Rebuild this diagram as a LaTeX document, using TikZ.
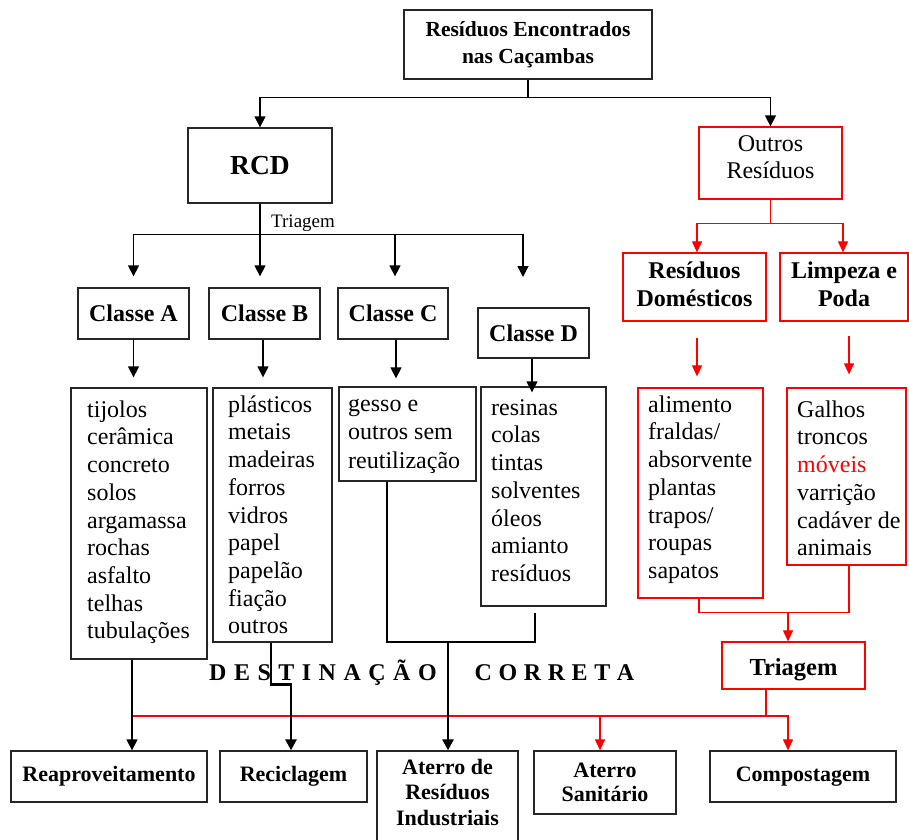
\documentclass[tikz,border=0pt]{standalone}
\usepackage{fontspec}
\setmainfont{Liberation Serif}
\usetikzlibrary{arrows.meta}
\newcommand\myfs[2]{\fontsize{#1}{#2}\selectfont}
\begin{document}
\begin{tikzpicture}[x=1pt,y=-1pt,
  box/.style={draw=black!85,line width=1.3pt,inner sep=0pt,align=center,font=\myfs{24}{27.7}\bfseries},
  rbox/.style={box,draw=red},
  lbox/.style={draw=black!85,line width=1.3pt,inner sep=0pt},
  rlbox/.style={lbox,draw=red},
  wh/.style 2 args={minimum width=#1pt,minimum height=#2pt},
  lbl/.style={inner sep=0pt,align=center},
  ltxt/.style={anchor=north west,inner sep=0pt,align=left,font=\myfs{24}{27.7}},
  ln/.style={line width=1.4pt,draw=black},
  thk/.style={line width=2.7pt,draw=black},
  arr/.style={ln,-{Triangle[length=11pt,width=11pt]}},
  rln/.style={line width=1.2pt,draw=red},
  rarr/.style={rln,-{Triangle[length=11pt,width=10pt]}},
]
\useasboundingbox (0,0) rectangle (909,839);
\clip (0,0) rectangle (909,839);
\fill[white] (0,0) rectangle (909,839);

% top level
\node[box,wh={248}{69},font=\myfs{21.5}{27}\bfseries] (top) at (528,44.5) {Resíduos Encontrados\\nas Caçambas};
\node[box,wh={144}{75},font=\myfs{27.5}{30}\bfseries] (rcd) at (260,165.5) {RCD};
\node[rbox,wh={143}{72}] (outros) at (770.5,163) {};
\node[lbl,font=\myfs{24}{27}] (outrosT) at (770.5,157) {Outros\\Resíduos};

% classes
\node[box,wh={111}{51}] (classA) at (133.5,313.5) {Classe A};
\node[box,wh={111}{51}] (classB) at (264.5,313.5) {Classe B};
\node[box,wh={110}{51}] (classC) at (393,313.5) {Classe C};
\node[box,wh={111}{50}] (classD) at (533.5,333) {Classe D};
\node[anchor=base west,inner sep=0pt,font=\myfs{19}{22}] (trilbl) at (271,227) {Triagem};

% other residues
\node[rbox,wh={143}{68}] (resdom) at (694.5,287) {};
\node[lbl,font=\myfs{24}{27.7}\bfseries] (resdomT) at (694.5,284) {Resíduos\\Domésticos};
\node[rbox,wh={128}{68}] (limpeza) at (844,287) {};
\node[lbl,font=\myfs{24}{27.7}\bfseries] (limpezaT) at (844,284) {Limpeza e\\Poda};

% lists
\node[lbox,wh={136}{271}] (listA) at (139,523.5) {};
\node[ltxt] (listAT) at (87,397.6) {\strut tijolos\\cerâmica\\concreto\\solos\\argamassa\\rochas\\asfalto\\telhas\\tubulações};
\node[lbox,wh={119}{254}] (listB) at (272.5,515) {};
\node[ltxt] (listBT) at (228,392.6) {\strut plásticos\\metais\\madeiras\\forros\\vidros\\papel\\papelão\\fiação\\outros};
\node[lbox,wh={137}{94}] (listC) at (407.5,434) {};
\node[ltxt,font=\myfs{24}{28.3}] (listCT) at (348,391.5) {\strut gesso e\\outros sem\\reutilização};
\node[lbox,wh={125}{219}] (listD) at (543.5,496.5) {};
\node[ltxt] (listDT) at (491,395.6) {\strut resinas\\colas\\tintas\\solventes\\óleos\\amianto\\resíduos};
\node[rlbox,wh={125}{210}] (listR1) at (700.5,493) {};
\node[ltxt] (listR1T) at (648,392.6) {\strut alimento\\fraldas/\\absorvente\\plantas\\trapos/\\roupas\\sapatos};
\node[rlbox,wh={119}{177}] (listR2) at (846.5,476.5) {};
\node[ltxt] (listR2T) at (797,397.6) {\strut Galhos\\troncos\\\textcolor{red}{móveis}\\varrição\\cadáver de\\animais};

% triagem red
\node[rbox,wh={143}{47}] (triagemR) at (793.5,665.5) {};
\node[lbl,font=\myfs{24.5}{28}\bfseries] (triagemRT) at (793.5,669.5) {Triagem};

% destination
\node[anchor=base west,inner sep=0pt,font=\myfs{24}{28}\bfseries] (dest) at (209,680)
  {\spaceskip=7.5pt\relax D E S T I N A Ç Ã O\hspace{38pt}{\spaceskip=6.6pt\relax C O R R E T A}};

% bottom boxes
\begin{scope}[box/.append style={font=\myfs{22}{24.5}\bfseries}]
\node[box,wh={196}{51}] (reap) at (109,776.5) {Reaproveitamento};
\node[box,wh={147}{51}] (recic) at (293.5,776.5) {Reciclagem};
\node[box,wh={141}{99}] (aterroI) at (447.5,800.5) {};
\node[lbl,font=\myfs{22}{25.5}\bfseries] (aterroIT) at (447.5,792) {Aterro de\\Resíduos\\Industriais};
\node[box,wh={142}{63}] (aterroS) at (605,782.5) {Aterro\\Sanitário};
\node[box,wh={186}{51}] (compost) at (803,776.5) {Compostagem};
\end{scope}

% coordinates for free ends / junctions
\path (rcd.south) ++(0,31) coordinate (tj);
\coordinate (dEnd) at (523,277);
\coordinate (rj) at (788,612);
\coordinate (rh) at (766,716);
\coordinate (rl) at (132,716);
\coordinate (cj) at (387,642);
\coordinate (dj) at (535,613);

% top connectors
\draw[arr] (top.south) -- ++(0,18) -| (rcd.north);
\draw[arr] (top.south) -- ++(0,18) -| (outros.north);

% RCD triage
\draw[arr,shorten >=11pt] (rcd.south) -- (rcd.south |- classB.north);
\draw[arr,shorten >=11pt] (tj) -| (classA.north);
\draw[arr,shorten >=11pt] (tj) -| ([xshift=2pt]classC.north);
\draw[arr] (tj) -| (dEnd);

% classes to lists
\draw[arr,shorten >=10pt] (classA.south) -- (classA.south |- listA.north);
\draw[arr,shorten >=10pt] ([xshift=-1.5pt]classB.south) -- ([xshift=-1.5pt]classB.south |- listB.north);
\draw[arr,shorten >=8pt] ([xshift=3pt]classC.south) -- ([xshift=3pt]classC.south |- listC.north);
\draw[arr,shorten >=-6pt] ([xshift=-1.5pt]classD.south) -- ([xshift=-1.5pt]classD.south |- listD.north);

% red branch
\draw[rarr] (outros.south) -- ++(0,24) -| ([xshift=2.5pt]resdom.north);
\draw[rarr] (outros.south) -- ++(0,24) -| ([xshift=-1pt]limpeza.north);
\draw[rarr,shorten <=16pt,shorten >=11pt] ([xshift=2.5pt]resdom.south) -- ([xshift=2.5pt]resdom.south |- listR1.north);
\draw[rarr,shorten <=14pt,shorten >=13pt] ([xshift=5pt]limpeza.south) -- ([xshift=5pt]limpeza.south |- listR2.north);
\draw[rln] ([xshift=-1.5pt]listR1.south) -- ++(0,14) -| ([xshift=2.5pt]listR2.south);
\draw[rarr] (rj) -- (rj |- triagemR.north);
\draw[rln] ([xshift=-27.5pt]triagemR.south) -- (rh);
\draw[rln] (rl) -- (rh);
\draw[rarr] (rh) -| ([xshift=-15pt]compost.north);
\draw[rarr] ([xshift=-5pt]aterroS.north |- rh) -- ([xshift=-5pt]aterroS.north);

% black destinations
\draw[arr] ([xshift=-7pt]listA.south) -- ([xshift=-7pt]listA.south |- reap.north);
\draw[arr,line width=2.6pt] ([xshift=-1.5pt]listB.south) -- ++(0,42) -| ([xshift=-2.5pt]recic.north);
\draw[thk] ([xshift=-20.5pt]listC.south) -- (cj) -| (dj);
\draw[arr,line width=2.7pt] ([xshift=0.5pt]aterroI.north |- cj) -- ([xshift=0.5pt]aterroI.north);
\end{tikzpicture}
\end{document}
